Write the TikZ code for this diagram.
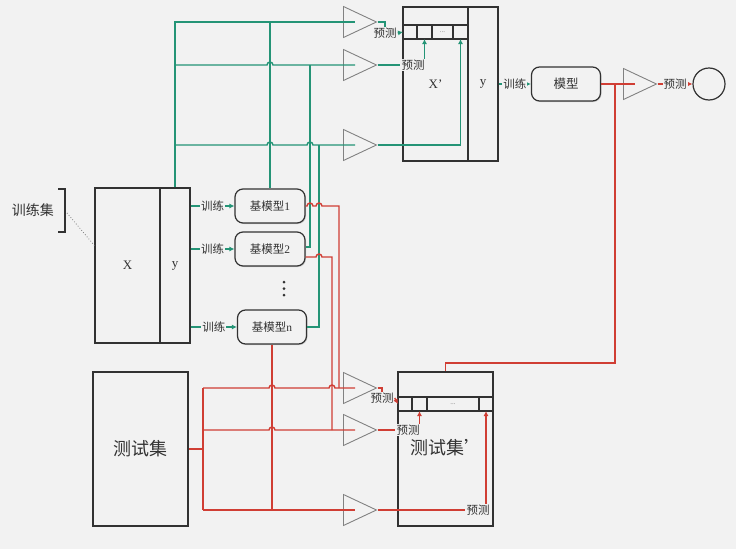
\documentclass[tikz,border=0pt]{standalone}
\usepackage{fontspec}
\setmainfont{Liberation Serif}
\newfontfamily\cjk{Noto Sans CJK SC}
\usetikzlibrary{positioning,arrows.meta,shapes.geometric,calc,shadows}
\definecolor{bgcol}{RGB}{242,242,242}
\definecolor{tealgreen}{RGB}{36,148,118}
\definecolor{linered}{RGB}{208,62,52}
\definecolor{boxline}{RGB}{50,50,50}
\definecolor{trigray}{RGB}{130,130,130}

\begin{document}
\begin{tikzpicture}[x=1pt, y=-1pt,
  box/.style={draw=boxline, line width=1.2pt, inner sep=0pt, text=boxline},
  model/.style={draw=boxline, line width=1.2pt, rounded corners=8pt, minimum width=70pt, minimum height=34pt, fill=bgcol, text=boxline, drop shadow={opacity=0.3, shadow xshift=1pt, shadow yshift=-1pt}, font=\fontsize{11.5}{13}\selectfont},
  cell/.style={draw=boxline, line width=1.2pt, minimum width=15pt, minimum height=14pt, inner sep=0pt, outer sep=0pt, text=gray, font=\fontsize{7}{8}\selectfont},
  amp/.style={draw=trigray, isosceles triangle, isosceles triangle stretches, minimum width=31pt, minimum height=33pt, inner sep=0pt, line width=0.9pt, anchor=west},
  lbl/.style={fill=bgcol, inner sep=1pt, text=boxline, font=\cjk\fontsize{11.5}{13}\selectfont},
  gline/.style={draw=tealgreen, line width=1.4pt},
  rline/.style={draw=linered, line width=1.4pt},
  hop/.style={insert path={-- ($(#1)+(-3,0)$) arc[start angle=180, end angle=0, radius=3pt]}},
  >={Latex[length=5pt,width=5pt]}
]
\fill[bgcol] (0,0) rectangle (736,549);
\useasboundingbox (0,0) rectangle (736,549);

\node[box, minimum width=65pt, minimum height=155pt, font=\fontsize{13}{15}\selectfont] (trX) at (127.5,265.5) {X};
\node[box, minimum width=30pt, minimum height=155pt, font=\fontsize{13}{15}\selectfont] (trY) at (175,265.5) {y};
\node[text=boxline, font=\cjk\fontsize{14}{16}\selectfont] (trSet) at (33,210) {训练集};
\draw[boxline, line width=1.2pt] (58,189) -- (65,189) -- (65,232) -- (58,232);
\draw[gray, dotted, line width=0.8pt] (67,213) -- ([yshift=20pt]trX.west);

\node[model] (bm1) at (270,206) {{\cjk 基模型}1};
\node[model] (bm2) at (270,249) {{\cjk 基模型}2};
\foreach \k in {0,1,2}
  \fill[boxline] (284,282+6.5*\k) circle (1.5pt);
\node[model, minimum width=69pt] (bmn) at (272,327) {{\cjk 基模型}n};

\draw[gline,->] (trY.east |- bm1) -- node[lbl]{训练} (bm1);
\draw[gline,->] (trY.east |- bm2) -- node[lbl]{训练} (bm2);
\draw[gline,->] (trY.east |- bmn) -- node[lbl]{训练} (bmn);

\node[amp] (ta1) at (343,22) {};
\node[amp] (ta2) at (343,65) {};
\node[amp] (ta3) at (343,145) {};
\node[amp] (tb1) at (343,388) {};
\node[amp] (tb2) at (343,430) {};
\node[amp] (tb3) at (343,510) {};

\coordinate (g2) at (310,65);
\coordinate (g3) at (319,145);
\coordinate (r1) at (339,388);
\coordinate (r2) at (332,430);
\coordinate (b2r) at ([yshift=-8pt]bm2.east);

\draw[gline] (trY.north) |- ([xshift=12pt]ta1.west);
\draw[gline] (trY.north |- ta2.west) [hop={bm1.north |- ta2.west}] -- ([xshift=12pt]ta2.west);
\draw[gline] (trY.north |- ta3.west) [hop={bm1.north |- ta3.west}] [hop={g2 |- ta3.west}] -- ([xshift=12pt]ta3.west);
\draw[gline] (bm1.north) -- (bm1.north |- ta1.west);
\draw[gline] ([yshift=2pt]bm2.east) -| (g2);
\draw[gline] (bmn.east) -| (g3);

\draw[rline] (bm1.east) [hop={g2 |- bm1.east}] [hop={g3 |- bm1.east}] -| (r1);
\draw[rline] (b2r) [hop={g3 |- b2r}] -| (r2);
\draw[rline] (bmn.south) -- (bmn.south |- tb3.west);

\node[box, minimum width=95pt, minimum height=154pt, font=\cjk\fontsize{18}{20}\selectfont] (ts) at (140.5,449) {测试集};
\coordinate (rj) at (203,449);
\draw[rline] (ts.east) -- (rj);
\draw[rline] (rj |- tb1.west) -- (rj |- tb3.west);
\draw[rline] (rj |- tb1.west) [hop={bmn.south |- tb1.west}] [hop={r2 |- tb1.west}] -- ([xshift=12pt]tb1.west);
\draw[rline] (rj |- tb2.west) [hop={bmn.south |- tb2.west}] -- ([xshift=12pt]tb2.west);
\draw[rline] (rj |- tb3.west) -- ([xshift=12pt]tb3.west);

\node[box, minimum width=65pt, minimum height=154pt, font=\fontsize{13}{15}\selectfont] (xP) at (435.5,84) {X’};
\node[box, minimum width=30pt, minimum height=154pt, font=\fontsize{13}{15}\selectfont] (yP) at (483,84) {y};
\node[cell, anchor=west, minimum width=14pt] (cA1) at (403,32) {};
\node[cell, right=0pt of cA1] (cA2) {};
\node[cell, right=0pt of cA2, minimum width=21pt] (cAd) {...};
\node[cell, right=0pt of cAd] (cA4) {};

\node[lbl, fill=none] (lp1) at (385,33) {预测};
\draw[gline] (ta1.east) -| (lp1.north);
\draw[gline,->] (lp1.east) -- (cA1.west);
\node[lbl] (lp2) at (413,65) {预测};
\draw[gline] (ta2.east) -- (lp2.west);
\draw[gline,->] (lp2.north -| cA2.south) -- (cA2.south);
\draw[gline,->] (ta3.east) -| (cA4.south);

\node[box, minimum width=95pt, minimum height=154pt] (tsP) at (445.5,449) {};
\node[text=boxline, font=\cjk\fontsize{18}{20}\selectfont] (tsPname) at (446,448) {测试集’};
\node[cell, anchor=west, minimum width=14pt] (cB1) at (398,404) {};
\node[cell, right=0pt of cB1] (cB2) {};
\node[cell, right=0pt of cB2, minimum width=52pt] (cBd) {...};
\node[cell, right=0pt of cBd, minimum width=14pt] (cB4) {};

\node[lbl, fill=none] (lq1) at (382,398) {预测};
\draw[rline] (tb1.east) -| (lq1.north);
\draw[rline,->] (lq1.east) -- (cB1.west);
\node[lbl] (lq2) at (408,430) {预测};
\draw[rline] (tb2.east) -- (lq2.west);
\draw[rline,->] (lq2.north -| cB2.south) -- (cB2.south);
\node[lbl] (lq3) at (478,510) {预测};
\draw[rline] (tb3.east) -- (lq3.west);
\draw[rline,->] (lq3.north -| cB4.south) -- (cB4.south);

\node[model, minimum width=69pt, font=\cjk\fontsize{12.5}{14}\selectfont] (md) at (566,84) {模型};
\draw[gline,->] (yP.east |- md) -- node[lbl]{训练} (md);
\node[amp] (tc) at (623,84) {};
\coordinate (jr) at (615,84);
\coordinate (jt) at (615,363);
\draw[rline] (md.east) -- ([xshift=12pt]tc.west);
\draw[rline] (tsP.north) |- (jt) -- (jr);
\node[circle, draw=boxline, line width=1.2pt, minimum size=32pt, inner sep=0pt] (ot) at (709,84) {};
\draw[rline,->] (tc.east) -- node[lbl]{预测} (ot);
\end{tikzpicture}
\end{document}
